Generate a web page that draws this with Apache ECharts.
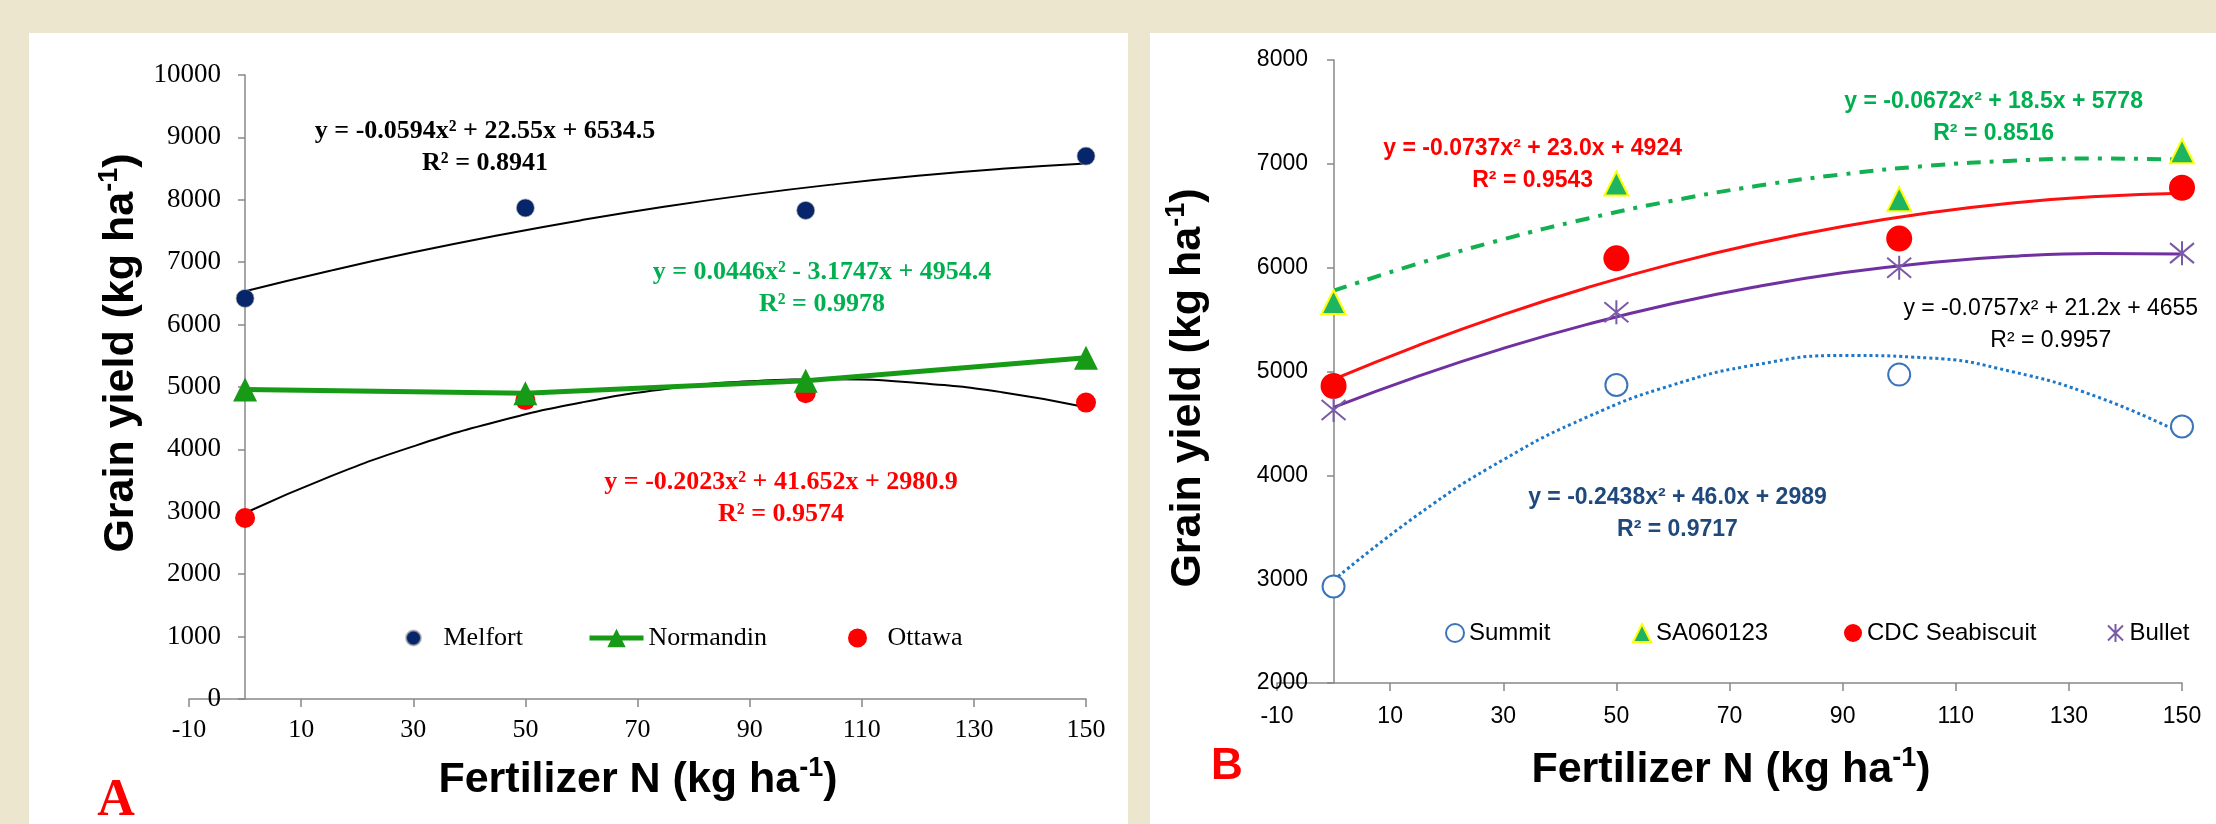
<!DOCTYPE html>
<html>
<head>
<meta charset="utf-8">
<script src="https://cdn.jsdelivr.net/npm/echarts@6/dist/echarts.min.js"></script>
<style>
  html, body { margin: 0; padding: 0; background: #ede6cf; }
  #container { width: 2216px; height: 824px; }
</style>
</head>
<body>
<div id="container"></div>
<script>
// N rates (kg/ha) where yield was measured
var nRates = [0, 50, 100, 150];
// panel A - sites
var melfort = [6420, 7870, 7830, 8700];
var normandin = [4960, 4900, 5100, 5470];
var ottawa = [2900, 4790, 4900, 4750];
// fitted curves as drawn, read every 15 kg N
var trendN = [0, 15, 30, 45, 60, 75, 90, 105, 120, 135, 150];
var melfortTrend = [6535, 6859, 7158, 7429, 7674, 7892, 8083, 8247, 8385, 8496, 8581];
var ottawaTrend = [2981, 3560, 4048, 4446, 4752, 4967, 5091, 5124, 5066, 4917, 4677];
// panel B - cultivars
var summit = [2930, 4870, 4970, 4470];
var sa060123 = [5670, 6810, 6660, 7120];
var seabiscuit = [4860, 6090, 6280, 6770];
var bullet = [4630, 5570, 6000, 6140];
var summitTrend = [2989, 3624, 4150, 4565, 4871, 5068, 5154, 5131, 4998, 4756, 4404];
var saTrend = [5778, 6040, 6273, 6474, 6646, 6788, 6899, 6980, 7030, 7051, 7041];
var seabiscuitTrend = [4924, 5252, 5548, 5810, 6039, 6234, 6397, 6526, 6623, 6686, 6716];
var bulletTrend = [4655, 4956, 5223, 5456, 5655, 5819, 5950, 6046, 6109, 6137, 6132];

function pts(xs, ys) {
  return xs.map(function (x, i) { return [x, ys[i]]; });
}

var SERIF = "'Liberation Serif', 'Times New Roman', serif";
var SANS = "'Liberation Sans', Arial, sans-serif";

// equation text put at a data coordinate
function eqMark(coord, text, color, font, weight, size) {
  return {
    symbol: 'rect', symbolSize: 1, silent: true,
    itemStyle: { color: 'rgba(0,0,0,0)' },
    label: {
      show: true, position: 'inside', formatter: text,
      color: color, fontFamily: font, fontWeight: weight, fontSize: size,
      lineHeight: 32, align: 'center'
    },
    data: [{ coord: coord }]
  };
}

function xAx(idx, font, size, margin) {
  return {
    type: 'value', gridIndex: idx, min: -10, max: 150, interval: 20,
    axisLine: { lineStyle: { color: '#888', width: 1.5 } },
    axisTick: { length: 8, lineStyle: { color: '#888', width: 1.5 } },
    axisLabel: { color: '#000', fontFamily: font, fontSize: size, margin: margin },
    splitLine: { show: false }
  };
}
// y axis sits at N = 0, shifted in from the grid's left edge
function yAx(idx, min, max, font, size, margin, offset) {
  return {
    type: 'value', gridIndex: idx, min: min, max: max, interval: 1000, offset: offset,
    axisLine: { onZero: false, lineStyle: { color: '#888', width: 1.5 } },
    axisTick: { show: true, length: 7, lineStyle: { color: '#888', width: 1.5 } },
    axisLabel: {
      color: '#000', fontFamily: font, fontSize: size, margin: margin,
      formatter: function (v) { return String(v); }
    },
    splitLine: { show: false }
  };
}

function legendItem(name, left, top, w, h, font, size, lh) {
  return {
    data: [name], left: left, top: top, padding: 0,
    itemWidth: w, itemHeight: h, lineStyle: { width: 5 },
    textStyle: { fontFamily: font, fontSize: size, color: '#000', lineHeight: lh }
  };
}

var titleRich = {
  a: { fontFamily: SANS, fontWeight: 'bold', fontSize: 43, lineHeight: 50, fill: '#000' },
  s: { fontFamily: SANS, fontWeight: 'bold', fontSize: 27, lineHeight: 27, verticalAlign: 'top', fill: '#000' }
};
function titleText(x, y, rot) {
  return {
    type: 'text', x: x, y: y, rotation: rot,
    style: {
      text: '{a|' + (rot ? 'Grain yield (kg ha' : 'Fertilizer N (kg ha') + '}{s|-1}{a|)}',
      rich: titleRich, align: 'center', verticalAlign: 'middle'
    }
  };
}

var dom = document.getElementById('container');
var myChart = echarts.init(dom, null, { renderer: 'canvas' });

var option = {
  animation: false,
  backgroundColor: '#ede6cf',
  graphic: [
    { type: 'rect', z: -10, shape: { x: 29, y: 33, width: 1099, height: 800 }, style: { fill: '#fff' } },
    { type: 'rect', z: -10, shape: { x: 1150, y: 33, width: 1070, height: 800 }, style: { fill: '#fff' } },
    titleText(121, 353, Math.PI / 2),
    titleText(638, 780, 0),
    titleText(1188, 388, Math.PI / 2),
    titleText(1731, 770, 0),
    { type: 'text', x: 116, y: 802, style: { text: 'A', fill: '#ff0000', font: 'bold 52px ' + SERIF, align: 'center', verticalAlign: 'middle' } },
    { type: 'text', x: 1227, y: 767, style: { text: 'B', fill: '#ff0000', font: 'bold 44px ' + SANS, align: 'center', verticalAlign: 'middle' } }
  ],
  grid: [
    { left: 189, top: 75, width: 897, height: 624 },
    { left: 1277, top: 60, width: 905, height: 623 }
  ],
  xAxis: [xAx(0, SERIF, 26, 18), xAx(1, SANS, 23, 22)],
  yAxis: [yAx(0, 0, 10000, SERIF, 27, 24, -56), yAx(1, 2000, 8000, SANS, 23, 26, -57)],
  legend: [
    legendItem('Melfort', 405, 623, 50, 15, SERIF, 26, 30),
    legendItem('Normandin', 587, 623, 54, 23, SERIF, 26, 30),
    legendItem('Ottawa', 848, 623, 50, 19, SERIF, 26, 30),
    legendItem('Summit', 1445, 619, 18, 18, SANS, 24, 28),
    legendItem('SA060123', 1632, 619, 18, 18, SANS, 24, 28),
    legendItem('CDC Seabiscuit', 1844, 619, 18, 18, SANS, 24, 28),
    legendItem('Bullet', 2107, 619, 18, 18, SANS, 24, 28)
  ],
  series: [
    // ---- panel A ----
    {
      name: 'Melfort trend', type: 'line', xAxisIndex: 0, yAxisIndex: 0,
      data: pts(trendN, melfortTrend), smooth: true, showSymbol: false,
      lineStyle: { color: '#000', width: 2 }, z: 2,
      markPoint: eqMark([42.8, 8846], 'y = -0.0594x² + 22.55x + 6534.5\nR² = 0.8941', '#000', SERIF, 'bold', 26)
    },
    {
      name: 'Ottawa trend', type: 'line', xAxisIndex: 0, yAxisIndex: 0,
      data: pts(trendN, ottawaTrend), smooth: true, showSymbol: false,
      lineStyle: { color: '#000', width: 2 }, z: 2,
      markPoint: eqMark([95.6, 3221], 'y = -0.2023x² + 41.652x + 2980.9\nR² = 0.9574', '#ff0000', SERIF, 'bold', 26)
    },
    {
      name: 'Melfort', type: 'scatter', xAxisIndex: 0, yAxisIndex: 0,
      data: pts(nRates, melfort), symbol: 'circle', symbolSize: 18,
      itemStyle: { color: '#06256a', opacity: 1, borderColor: 'rgba(170,170,170,0.7)', borderWidth: 1 }, z: 4
    },
    {
      name: 'Ottawa', type: 'scatter', xAxisIndex: 0, yAxisIndex: 0,
      data: pts(nRates, ottawa), symbol: 'circle', symbolSize: 20,
      itemStyle: { color: '#ff0000', opacity: 1 }, z: 4
    },
    {
      name: 'Normandin', type: 'line', xAxisIndex: 0, yAxisIndex: 0,
      data: pts(nRates, normandin), symbol: 'triangle', symbolSize: 24, showAllSymbol: true,
      lineStyle: { color: '#179b17', width: 5 }, itemStyle: { color: '#179b17' }, z: 5,
      markPoint: eqMark([102.9, 6587], 'y = 0.0446x² - 3.1747x + 4954.4\nR² = 0.9978', '#00b050', SERIF, 'bold', 26)
    },
    // ---- panel B ----
    {
      name: 'Summit trend', type: 'line', xAxisIndex: 1, yAxisIndex: 1,
      data: pts(trendN, summitTrend), smooth: true, showSymbol: false,
      lineStyle: { color: '#1e78c8', width: 3, type: [3, 3] }, z: 2,
      markPoint: eqMark([60.8, 3635], 'y = -0.2438x² + 46.0x + 2989\nR² = 0.9717', '#1f497d', SANS, 'bold', 23)
    },
    {
      name: 'SA060123 trend', type: 'line', xAxisIndex: 1, yAxisIndex: 1,
      data: pts(trendN, saTrend), smooth: true, showSymbol: false,
      lineStyle: { color: '#13b052', width: 4, type: [14, 9, 4, 9] }, z: 2,
      markPoint: eqMark([116.7, 7442], 'y = -0.0672x² + 18.5x + 5778\nR² = 0.8516', '#00b050', SANS, 'bold', 23)
    },
    {
      name: 'CDC Seabiscuit trend', type: 'line', xAxisIndex: 1, yAxisIndex: 1,
      data: pts(trendN, seabiscuitTrend), smooth: true, showSymbol: false,
      lineStyle: { color: '#ff1010', width: 3 }, z: 2,
      markPoint: eqMark([35.2, 6990], 'y = -0.0737x² + 23.0x + 4924\nR² = 0.9543', '#ff0000', SANS, 'bold', 23)
    },
    {
      name: 'Bullet trend', type: 'line', xAxisIndex: 1, yAxisIndex: 1,
      data: pts(trendN, bulletTrend), smooth: true, showSymbol: false,
      lineStyle: { color: '#7030a0', width: 3 }, z: 2,
      markPoint: eqMark([126.8, 5452], 'y = -0.0757x² + 21.2x + 4655\nR² = 0.9957', '#000', SANS, 'normal', 23)
    },
    {
      name: 'Summit', type: 'scatter', xAxisIndex: 1, yAxisIndex: 1,
      data: pts(nRates, summit), symbol: 'circle', symbolSize: 22,
      itemStyle: { color: '#fff', opacity: 1, borderColor: '#3c74bb', borderWidth: 2 }, z: 4
    },
    {
      name: 'SA060123', type: 'scatter', xAxisIndex: 1, yAxisIndex: 1,
      data: pts(nRates, sa060123), symbol: 'triangle', symbolSize: 24,
      itemStyle: { color: '#1fb462', opacity: 1, borderColor: '#ffff00', borderWidth: 2 }, z: 4
    },
    {
      name: 'CDC Seabiscuit', type: 'scatter', xAxisIndex: 1, yAxisIndex: 1,
      data: pts(nRates, seabiscuit), symbol: 'circle', symbolSize: 26,
      itemStyle: { color: '#ff0000', opacity: 1 }, z: 4
    },
    {
      name: 'Bullet', type: 'scatter', xAxisIndex: 1, yAxisIndex: 1,
      data: pts(nRates, bullet), symbol: 'path://M0,0L10,10M10,0L0,10M5,-1L5,11', symbolSize: 24,
      itemStyle: { color: 'rgba(0,0,0,0)', opacity: 1, borderColor: '#7a5aa6', borderWidth: 2 }, z: 4
    }
  ]
};

myChart.setOption(option);
window.addEventListener('resize', myChart.resize);
</script>
</body>
</html>
